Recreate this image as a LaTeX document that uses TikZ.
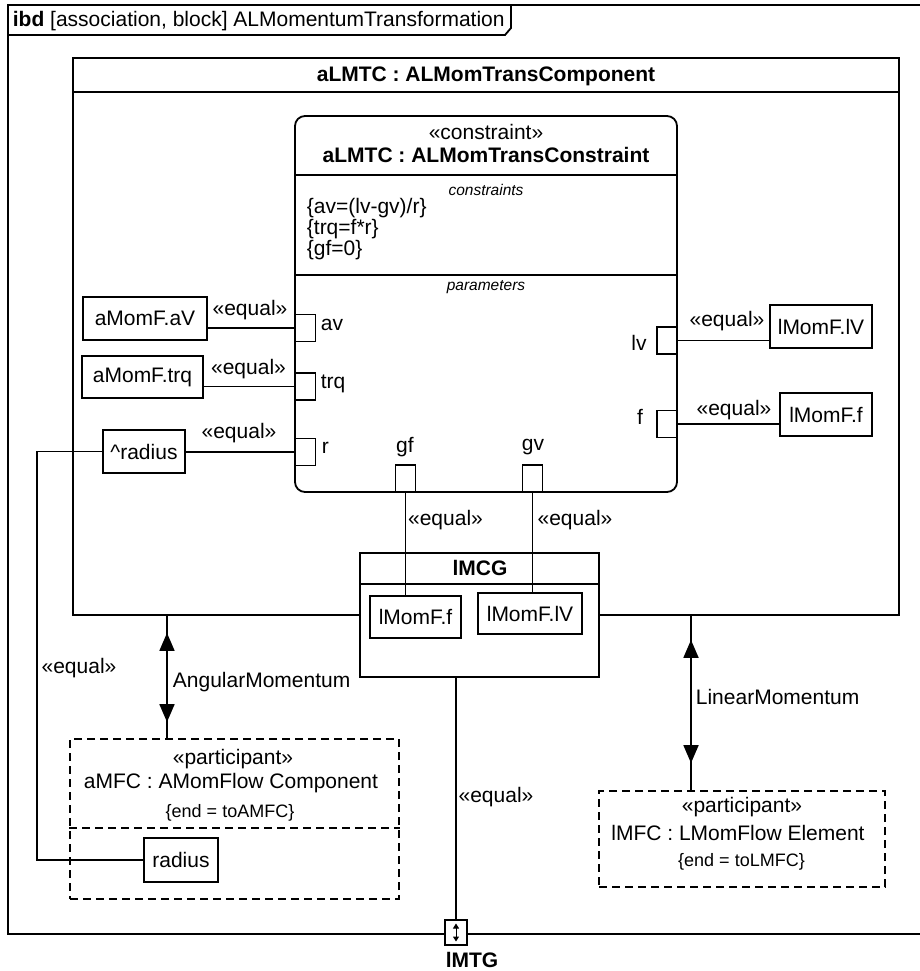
\documentclass[tikz,border=0pt]{standalone}
\usepackage{fontspec}
\setmainfont{Liberation Sans}
\usetikzlibrary{arrows.meta,calc}
\newcommand{\myfs}[1]{\fontsize{#1}{#1}\selectfont}
\begin{document}
\begin{tikzpicture}[x=1pt,y=-1pt, line width=1.8pt,
  every node/.style={font=\myfs{21}, inner sep=0pt},
  box/.style={draw, fill=white, inner sep=0pt},
  dbox/.style={draw, dash pattern=on 8pt off 5pt},
  portbox/.style={draw, fill=white, minimum width=20pt, minimum height=27pt, inner sep=0pt},
  smallit/.style={font=\myfs{15.5}\itshape},
  endlbl/.style={font=\myfs{18}},
  assoc/.style={{Triangle[width=15pt,length=18pt]}-{Triangle[width=15pt,length=18pt]}}
]
\useasboundingbox (0,0) rectangle (920,971);

% frame
\draw (920,5) -- (8,5) -- (8,934) -- (920,934);
\draw (8,35) -- (505,35) -- (511,28) -- (511,5);
\node[anchor=west] (ttl) at (12,21) {\textbf{ibd} [association, block] ALMomentumTransformation};

% outer block
\node[draw, minimum width=826pt, minimum height=557pt] (blk) at (486,336.5) {};
\draw (blk.north west) ++(0,35) -- ++(826,0);
\node (blkt) at (486,76) {\textbf{aLMTC : ALMomTransComponent}};

% constraint block
\node[draw, rounded corners=10pt, minimum width=382pt, minimum height=376pt] (cb) at (486,304) {};
\draw (cb.west |- 0,175) -- (cb.east |- 0,175);
\draw (cb.west |- 0,275) -- (cb.east |- 0,275);
\node (cst) at (486,132) {«constraint»};
\node (cbt) at (486,155) {\textbf{aLMTC : ALMomTransConstraint}};
\node[smallit] (cc) at (486,190) {constraints};
\node[anchor=west, align=left, font=\fontsize{21}{21}\selectfont] (ctx) at (306,229) {\{av=(lv-gv)/r\}\\\{trq=f*r\}\\\{gf=0\}};
\node[smallit] (cp) at (486,287) {parameters};

% ports
\node[portbox] (avp) at (305.5,328) {};
\node[portbox] (trqp) at (305.5,386.5) {};
\node[portbox] (rp) at (305.5,452) {};
\node[portbox] (lvp) at (667,340.5) {};
\node[portbox] (fp) at (667,424) {};
\node[portbox] (gfp) at (405.5,478.5) {};
\node[portbox] (gvp) at (532.5,478.5) {};
\node[anchor=west] (avl) at (320,325) {av};
\node[anchor=west] (trql) at (320,384) {trq};
\node[anchor=west] (rl) at (321,448) {r};
\node (lvl) at (639,343) {lv};
\node (fl) at (640,417) {f};
\node (gfl) at (405,447) {gf};
\node (gvl) at (533,447) {gv};

% value boxes
\node[box, minimum width=124pt, minimum height=43pt] (avb) at (145,318.5) {aMomF.aV};
\node[box, minimum width=121pt, minimum height=42pt] (trqb) at (142.5,377) {aMomF.trq};
\node[box, minimum width=82pt, minimum height=43pt] (radb) at (144,451.5) {\^{}radius};
\node[box, minimum width=102pt, minimum height=43pt] (lvb) at (821,326.5) {lMomF.lV};
\node[box, minimum width=92pt, minimum height=43pt] (fb) at (826,414.5) {lMomF.f};

\draw (avp.west) -- (avp.west -| avb.east);
\draw (trqp.west) -- (trqp.west -| trqb.east);
\draw (rp.west) -- (rp.west -| radb.east);
\draw (lvp.east) -- (lvp.east -| lvb.west);
\draw (fp.east) -- (fp.east -| fb.west);
\node (eq1) at (250,310) {«equal»};
\node (eq2) at (248.5,369) {«equal»};
\node (eq3) at (239,433) {«equal»};
\node (eq4) at (727,321) {«equal»};
\node (eq5) at (734,410) {«equal»};

% lMCG
\node[box, minimum width=239pt, minimum height=124pt] (lmcg) at (479.5,615) {};
\draw (lmcg.west |- 0,584) -- (lmcg.east |- 0,584);
\node (lmcgt) at (480,568) {\textbf{lMCG}};
\node[box, minimum width=91pt, minimum height=42pt] (lff) at (415.5,617) {lMomF.f};
\node[box, minimum width=104pt, minimum height=41pt] (lvv) at (530,613.5) {lMomF.lV};
\draw (gfp.south) -- (gfp.south |- lff.north);
\draw (gvp.south) -- (gvp.south |- lvv.north);
\node (eq6) at (445.5,520) {«equal»};
\node (eq7) at (575,520) {«equal»};

% participants
\node[dbox, minimum width=329pt, minimum height=160pt] (amfc) at (234.5,819) {};
\draw[dash pattern=on 8pt off 5pt] (amfc.west |- 0,828) -- (amfc.east |- 0,828);
\node (amfc1) at (233,759) {«participant»};
\node (amfc2) at (231,783) {aMFC : AMomFlow Component};
\node[endlbl] (amfc3) at (230,813) {\{end = toAMFC\}};
\node[box, minimum width=74pt, minimum height=44pt] (radius) at (181,860) {radius};

\node[dbox, minimum width=286pt, minimum height=96pt] (lmfc) at (742,839) {};
\node (lmfc1) at (742,807) {«participant»};
\node (lmfc2) at (738,833) {lMFC : LMomFlow Element};
\node[endlbl] (lmfc3) at (741.5,862) {\{end = toLMFC\}};

% associations
\coordinate (ax) at (167,0);
\draw[assoc, shorten <=17pt, shorten >=16pt] (ax |- blk.south) -- (ax |- amfc.north);
\draw (ax |- blk.south) -- (ax |- amfc.north);
\node[anchor=west] (angl) at (172,682) {AngularMomentum};
\coordinate (lx) at (691,0);
\draw[assoc, shorten <=24pt, shorten >=27pt] (lx |- blk.south) -- (lx |- lmfc.north);
\draw (lx |- blk.south) -- (lx |- lmfc.north);
\node[anchor=west] (linl) at (695,697) {LinearMomentum};

% radius binding
\coordinate (ex) at (37,0);
\draw (radb.west) -- (radb.west -| ex) -- (radius.west -| ex) -- (radius.west);
\node (eq8) at (79,668) {«equal»};

% lMTG port
\node[draw, fill=white, minimum width=22pt, minimum height=25pt] (mtg) at (456,932.5) {};
\draw (mtg.north) -- (mtg.north |- lmcg.south);
\draw[-{Triangle[width=6pt,length=5pt]}, line width=1pt] (mtg.center) -- ++(0,-9);
\draw[-{Triangle[width=6pt,length=5pt]}, line width=1pt] (mtg.center) -- ++(0,9);
\node (mtgl) at (472,960) {\textbf{lMTG}};
\node (eq9) at (496,797) {«equal»};
\end{tikzpicture}
\end{document}
